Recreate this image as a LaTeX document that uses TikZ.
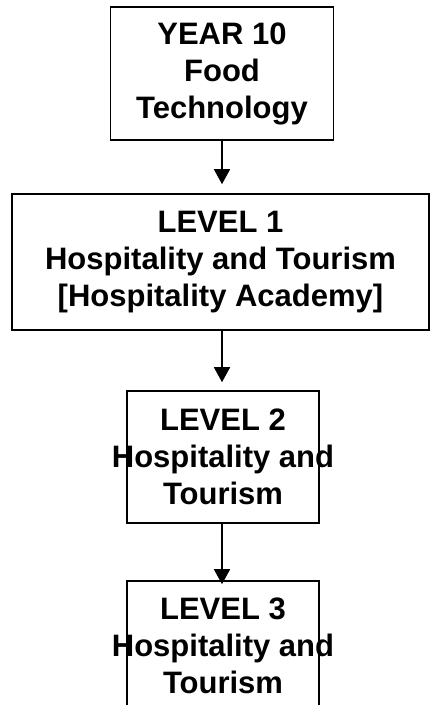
\documentclass[tikz,border=0pt]{standalone}
\usepackage{fontspec}
\setmainfont{Liberation Sans}
\usetikzlibrary{arrows.meta}

\newcommand{\ctrline}[1]{\makebox[0pt]{#1}}

\tikzset{
  stage/.style={draw, line width=1.6pt, inner sep=0pt, align=center,
                font=\fontsize{31}{37}\selectfont\bfseries},
  flow/.style={line width=1.6pt, -{Triangle[length=15pt,width=16pt]}}
}

\begin{document}
\begin{tikzpicture}[x=1pt,y=-1pt]
  \useasboundingbox (0,0) rectangle (439,705);
  \clip (0,0) rectangle (439,705);

  \node [stage, minimum width=223pt, minimum height=133pt] (year10) at (222,73.5)
        {\ctrline{YEAR 10}\\\ctrline{Food}\\\ctrline{Technology}};
  \node [stage, minimum width=417pt, minimum height=136pt] (level1) at (220.5,262)
        {\ctrline{LEVEL 1}\\\ctrline{Hospitality and Tourism}\\\ctrline{[Hospitality Academy]}};
  \node [stage, minimum width=192pt, minimum height=132pt] (level2) at (223,457)
        {\ctrline{LEVEL 2}\\\ctrline{Hospitality and}\\\ctrline{Tourism}};
  \node [stage, minimum width=192pt, minimum height=130pt] (level3) at (223,646)
        {\ctrline{LEVEL 3}\\\ctrline{Hospitality and}\\\ctrline{Tourism}};

  \draw [flow, shorten >=9pt] (year10.south) -- (year10.south |- level1.north);
  \draw [flow, shorten >=8pt] (year10.south |- level1.south) -- (year10.south |- level2.north);
  \draw [flow, shorten >=-4pt] (year10.south |- level2.south) -- (year10.south |- level3.north);

\end{tikzpicture}
\end{document}
